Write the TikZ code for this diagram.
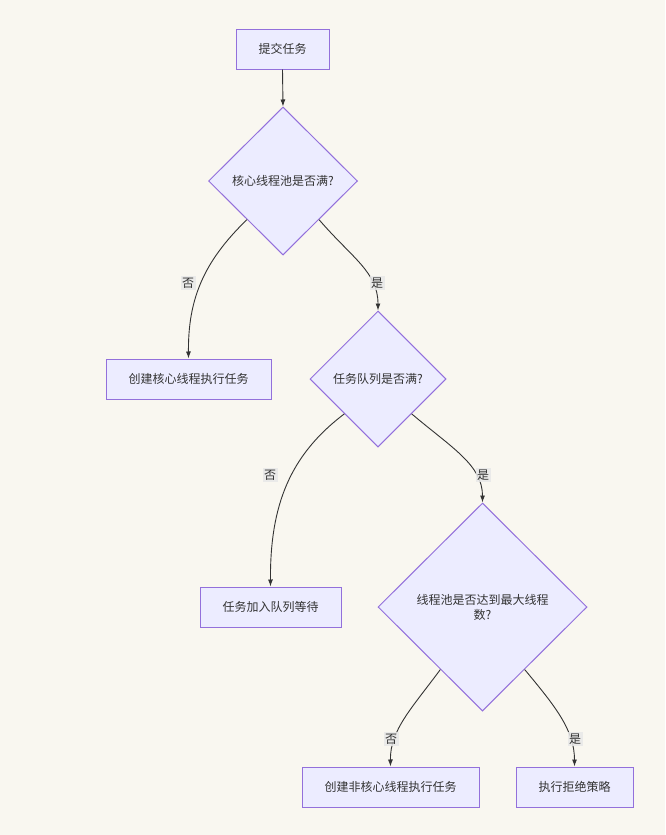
\documentclass[tikz,border=0pt]{standalone}
\usepackage{fontspec}
\setmainfont{Noto Sans CJK SC}
\usetikzlibrary{shapes.geometric,arrows.meta}
\definecolor{bgc}{HTML}{F9F7F0}
\definecolor{nodefill}{HTML}{ECECFF}
\definecolor{nodeline}{HTML}{9370DB}
\definecolor{edgec}{HTML}{333333}
\definecolor{lblbg}{HTML}{E8E8E8}
\tikzset{
  box/.style={draw=nodeline, fill=nodefill, line width=1pt, minimum height=40pt, inner sep=0pt, text=edgec, font=\fontsize{12}{15}\selectfont},
  decision/.style={draw=nodeline, fill=nodefill, line width=1pt, diamond, inner sep=0pt, text=edgec, font=\fontsize{12}{15}\selectfont, align=center},
  flow/.style={draw=edgec, line width=0.9pt, -{Latex[length=7pt,width=5pt]}},
  lbl/.style={fill=lblbg, fill opacity=0.85, text opacity=1, text=edgec, inner sep=1.5pt, font=\fontsize{12}{15}\selectfont}
}
\begin{document}
\begin{tikzpicture}[x=1pt,y=-1pt]
\fill[bgc] (0,0) rectangle (665,835);
\useasboundingbox (0,0) rectangle (665,835);

\node[box, minimum width=93pt] (start) at (282.5,49) {提交任务};
\node[decision, minimum width=149pt, minimum height=148pt] (d1) at (283,181) {核心线程池是否满?};
\node[box, minimum width=165pt] (a1) at (188.5,379) {创建核心线程执行任务};
\node[decision, minimum width=136pt, minimum height=136pt] (d2) at (378,379) {任务队列是否满?};
\node[box, minimum width=141pt] (a2) at (270.5,607) {任务加入队列等待};
\node[decision, minimum width=209pt, minimum height=208pt] (d3) at (482.5,607) {线程池是否达到最大线程\\数?};
\node[box, minimum width=177pt] (a3) at (390.5,787) {创建非核心线程执行任务};
\node[box, minimum width=117pt] (a4) at (574.5,787) {执行拒绝策略};

\draw[flow] (start.south) -- (d1.north);
\draw[flow] (d1.227) .. controls (203,262) and (188,300) .. (a1.north);
\draw[flow] (d1.313) .. controls (352,258) and (378,272) .. (d2.north);
\draw[flow] (d2.226) .. controls (290,455) and (270,505) .. (a2.north);
\draw[flow] (d2.314) .. controls (452,448) and (482.5,465) .. (d3.north);
\draw[flow] (d3.236) .. controls (412,708) and (390,730) .. (a3.north);
\draw[flow] (d3.304) .. controls (555,706) and (574.5,730) .. (a4.north);

\node[lbl] (l1) at (188,283) {否};
\node[lbl] (l2) at (377,283) {是};
\node[lbl] (l3) at (270,475) {否};
\node[lbl] (l4) at (483,475) {是};
\node[lbl] (l5) at (391,739) {否};
\node[lbl] (l6) at (575,739) {是};
\end{tikzpicture}
\end{document}
